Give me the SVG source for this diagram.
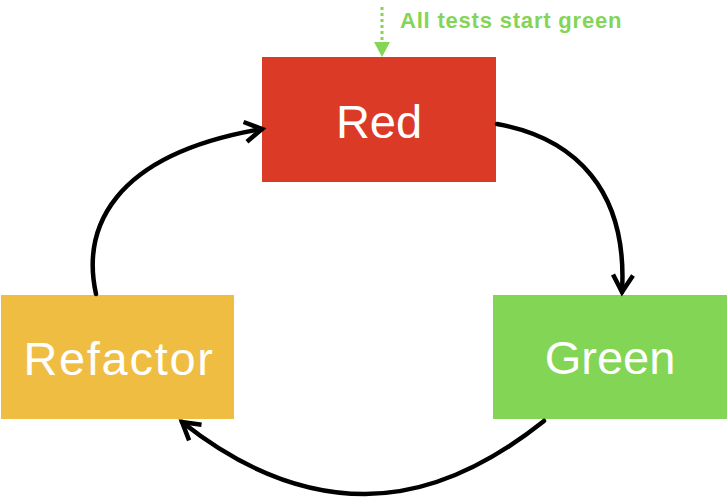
<svg xmlns="http://www.w3.org/2000/svg" width="728" height="499" viewBox="0 0 728 499">
<style>
.lbl{font-family:"Liberation Sans",Arial,sans-serif;fill:#fff;text-anchor:middle;font-size:47px}
.conn{fill:none;stroke:#000;stroke-width:4.5;stroke-linecap:round}
</style>
<defs>
<marker id="ah" markerUnits="userSpaceOnUse" markerWidth="30" markerHeight="30" refX="0" refY="0" viewBox="-15 -15 30 30" orient="auto" overflow="visible">
<path d="M-17,-10 L0,0 L-17,10" fill="none" stroke="#000" stroke-width="4.5" stroke-linecap="butt" stroke-linejoin="miter"/>
</marker>
</defs>
<rect width="728" height="499" fill="#fff"/>
<g id="start">
<line x1="382" y1="7" x2="382" y2="42" stroke="#83D556" stroke-width="3" stroke-dasharray="3,3"/>
<polygon points="374,42 390,42 382,57" fill="#83D556"/>
<text x="400" y="28" font-family="Liberation Sans,Arial,sans-serif" font-weight="bold" font-size="22" letter-spacing="0.8" fill="#83D556">All tests start green</text>
</g>
<g id="red">
<rect x="262" y="57" width="234" height="125" fill="#DB3A27"/>
<text class="lbl" x="379" y="138">Red</text>
</g>
<g id="refactor">
<rect x="1" y="295" width="233" height="124" fill="#EFBD42"/>
<text class="lbl" x="119" y="375" letter-spacing="1.7">Refactor</text>
</g>
<g id="green">
<rect x="493" y="295" width="234" height="124" fill="#83D556"/>
<text class="lbl" x="610" y="374">Green</text>
</g>
<g id="connectors">
<path class="conn" d="M497,124 C575,138 628,190 622,292" marker-end="url(#ah)"/>
<path class="conn" d="M544,421 C480,472 420,494 365,494 C300,494 240,468 182,422" marker-end="url(#ah)"/>
<path class="conn" d="M96,294 C82,230 110,155 262,129" marker-end="url(#ah)"/>
</g>
</svg>
